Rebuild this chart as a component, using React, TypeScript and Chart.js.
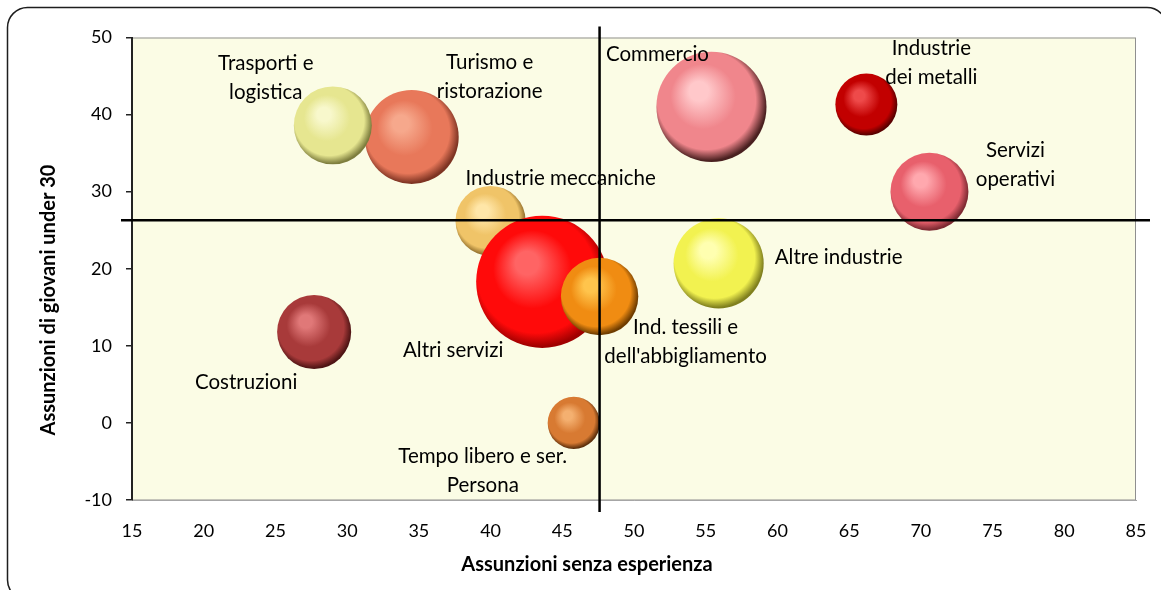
import React, { useEffect, useRef } from "react";
import { Chart, registerables } from "chart.js";

Chart.register(...registerables);

// ---------- DATA ----------
const sectorLabels: string[][] = [
  ["Turismo e", "ristorazione"],
  ["Trasporti e", "logistica"],
  ["Commercio"],
  ["Industrie", "dei metalli"],
  ["Servizi", "operativi"],
  ["Industrie meccaniche"],
  ["Altri servizi"],
  ["Ind. tessili e", "dell'abbigliamento"],
  ["Altre industrie"],
  ["Costruzioni"],
  ["Tempo libero e ser.", "Persona"],
];
const noExperience: number[] = [34.5, 29.0, 55.4, 66.2, 70.6, 40.0, 43.6, 47.6, 55.9, 27.7, 45.8];
const under30: number[] = [37.1, 38.6, 41.0, 41.3, 30.0, 26.2, 18.3, 16.4, 20.7, 11.8, 0.0];
const hiresShare: number[] = [22.1, 15.2, 30.3, 9.6, 15.2, 12.3, 43.6, 15.0, 20.3, 13.7, 6.8];
const avgNoExperience = 47.6;
const avgUnder30 = 26.3;
const xTicks = { min: 15, max: 85, step: 5 };
const yTicks = { min: -10, max: 50, step: 10 };
const xTitle = "Assunzioni senza esperienza";
const yTitle = "Assunzioni di giovani under 30";

// ---------- STYLE ----------
const FONT = "Lato, 'Open Sans', sans-serif";
const PLOT_BG = "#FBFCE5";
const BUBBLE_SCALE = 10; // px radius per sqrt(size)
// [highlight, base, dark]
const palette: string[][] = [
  ["#F6A88C", "#E8785A", "#7E3423"],
  ["#F8F8CC", "#E6E690", "#7E7E3E"],
  ["#FFC8CA", "#F0868C", "#4A2020"],
  ["#EE4A4A", "#C20000", "#5A0000"],
  ["#FFA8AE", "#E8606C", "#7E2A32"],
  ["#FFE6A8", "#F0C468", "#8C6A28"],
  ["#FF6464", "#FF0A0A", "#A00000"],
  ["#FFC44C", "#F08C12", "#6E3C00"],
  ["#FFFFB0", "#F2F250", "#80801E"],
  ["#E07878", "#A83A3A", "#4E1414"],
  ["#F4B070", "#D87A32", "#5E300C"],
];
// label placement relative to bubble centre (px): [dx, dy of first line]
const labelOffsets: number[][] = [
  [78, -75], [-67, -62], [-54, -52], [65, -56], [86, -41], [70, -43],
  [-89, 69], [86, 31], [120, -6], [-68, 50], [-91, 33],
];
const LINE_GAP = 29;

function sphere(ctx: any) {
  const i = ctx.dataIndex;
  const [hi, base, dark] = palette[i] || palette[0];
  if (ctx.type !== "data") return base;
  const chart = ctx.chart;
  const xs = chart.scales?.x;
  const ys = chart.scales?.y;
  const raw = ctx.raw;
  if (!xs || !ys || !raw) return base;
  const cx = xs.getPixelForValue(raw.x);
  const cy = ys.getPixelForValue(raw.y);
  const r = raw.r;
  if (!isFinite(cx) || !isFinite(cy)) return base;
  const g = chart.ctx.createRadialGradient(cx - r * 0.26, cy - r * 0.32, r * 0.02, cx - r * 0.06, cy - r * 0.08, r * 1.06);
  g.addColorStop(0, hi);
  g.addColorStop(0.15, hi);
  g.addColorStop(0.55, base);
  g.addColorStop(0.84, base);
  g.addColorStop(1, dark);
  return g;
}

const decor = {
  id: "decor",
  beforeDraw(chart: any) {
    const { ctx, chartArea: a } = chart;
    ctx.save();
    ctx.fillStyle = "#ffffff";
    ctx.fillRect(0, 0, chart.width, chart.height);
    ctx.beginPath();
    ctx.roundRect(7.5, 7.5, 1159.5, 592.5, 20);
    ctx.strokeStyle = "#1e1e1e";
    ctx.lineWidth = 1.5;
    ctx.stroke();
    ctx.fillStyle = PLOT_BG;
    ctx.fillRect(a.left, a.top, a.right - a.left, a.bottom - a.top);
    ctx.strokeStyle = "#8f8f8f";
    ctx.lineWidth = 1;
    ctx.strokeRect(a.left + 0.5, a.top + 0.5, a.right - a.left - 1, a.bottom - a.top - 0.5);
    ctx.restore();
  },
  afterDatasetsDraw(chart: any) {
    const { ctx, chartArea: a } = chart;
    const xs = chart.scales.x;
    const ys = chart.scales.y;
    ctx.save();
    ctx.fillStyle = "#000";
    ctx.font = `20.5px ${FONT}`;
    ctx.textAlign = "center";
    ctx.textBaseline = "middle";
    sectorLabels.forEach((lines, i) => {
      const cx = xs.getPixelForValue(noExperience[i]);
      const cy = ys.getPixelForValue(under30[i]);
      const [dx, dy] = labelOffsets[i];
      lines.forEach((t, k) => ctx.fillText(t, cx + dx, cy + dy + k * LINE_GAP));
    });
    // crosshair at averages
    const vx = xs.getPixelForValue(avgNoExperience);
    const hy = ys.getPixelForValue(avgUnder30);
    ctx.strokeStyle = "#000";
    ctx.lineWidth = 2.5;
    ctx.beginPath();
    ctx.moveTo(vx, a.top - 11);
    ctx.lineTo(vx, a.bottom + 12);
    ctx.moveTo(a.left - 11, hy);
    ctx.lineTo(a.right + 14, hy);
    ctx.stroke();
    ctx.restore();
  },
  afterDraw(chart: any) {
    const { ctx } = chart;
    ctx.save();
    ctx.fillStyle = "#000";
    ctx.font = `bold 20px ${FONT}`;
    ctx.textAlign = "center";
    ctx.textBaseline = "middle";
    ctx.fillText(xTitle, 587, 565);
    ctx.translate(49, 300);
    ctx.rotate(-Math.PI / 2);
    ctx.fillText(yTitle, 0, 0);
    ctx.restore();
  },
};

export default function App() {
  const ref = useRef<HTMLCanvasElement | null>(null);
  useEffect(() => {
    if (!ref.current) return;
    const data = noExperience.map((x, i) => ({ x, y: under30[i], r: BUBBLE_SCALE * Math.sqrt(hiresShare[i]) }));
    const chart = new Chart(ref.current, {
      type: "bubble",
      data: {
        datasets: [
          {
            label: "Settori",
            data,
            backgroundColor: sphere as any,
            borderWidth: 0,
            hoverBorderWidth: 0,
            clip: false as any,
          },
        ],
      },
      options: {
        responsive: false,
        animation: false,
        events: [],
        layout: { autoPadding: false, padding: { left: 0, right: 25, top: 37.5, bottom: 0 } },
        plugins: { legend: { display: false }, tooltip: { enabled: false } },
        scales: {
          x: {
            type: "linear",
            min: xTicks.min,
            max: xTicks.max,
            afterFit: (s: any) => { s.height = 90; s.paddingLeft = 0; s.paddingRight = 0; },
            grid: { display: false, drawTicks: false },
            border: { display: true, color: "#a6a6a6", width: 1 },
            ticks: { stepSize: xTicks.step, color: "#000", padding: 20, font: { family: FONT, size: 18 } },
          },
          y: {
            type: "linear",
            min: yTicks.min,
            max: yTicks.max,
            afterFit: (s: any) => { s.width = 132; s.paddingTop = 0; s.paddingBottom = 0; },
            grid: { display: true, drawOnChartArea: false, drawTicks: true, tickLength: 6, color: "#222", lineWidth: 1.5 },
            border: { display: true, color: "#222", width: 2 },
            ticks: { stepSize: yTicks.step, color: "#000", padding: 14, font: { family: FONT, size: 18 } },
            title: { display: false, text: yTitle },
          },
        },
      },
      plugins: [decor],
    });
    return () => chart.destroy();
  }, []);
  return (
    <div style={{ position: "fixed", left: 0, top: 0, width: 1161, height: 590, background: "#fff" }}>
      <canvas ref={ref} width={1161} height={590} style={{ display: "block" }} />
    </div>
  );
}
